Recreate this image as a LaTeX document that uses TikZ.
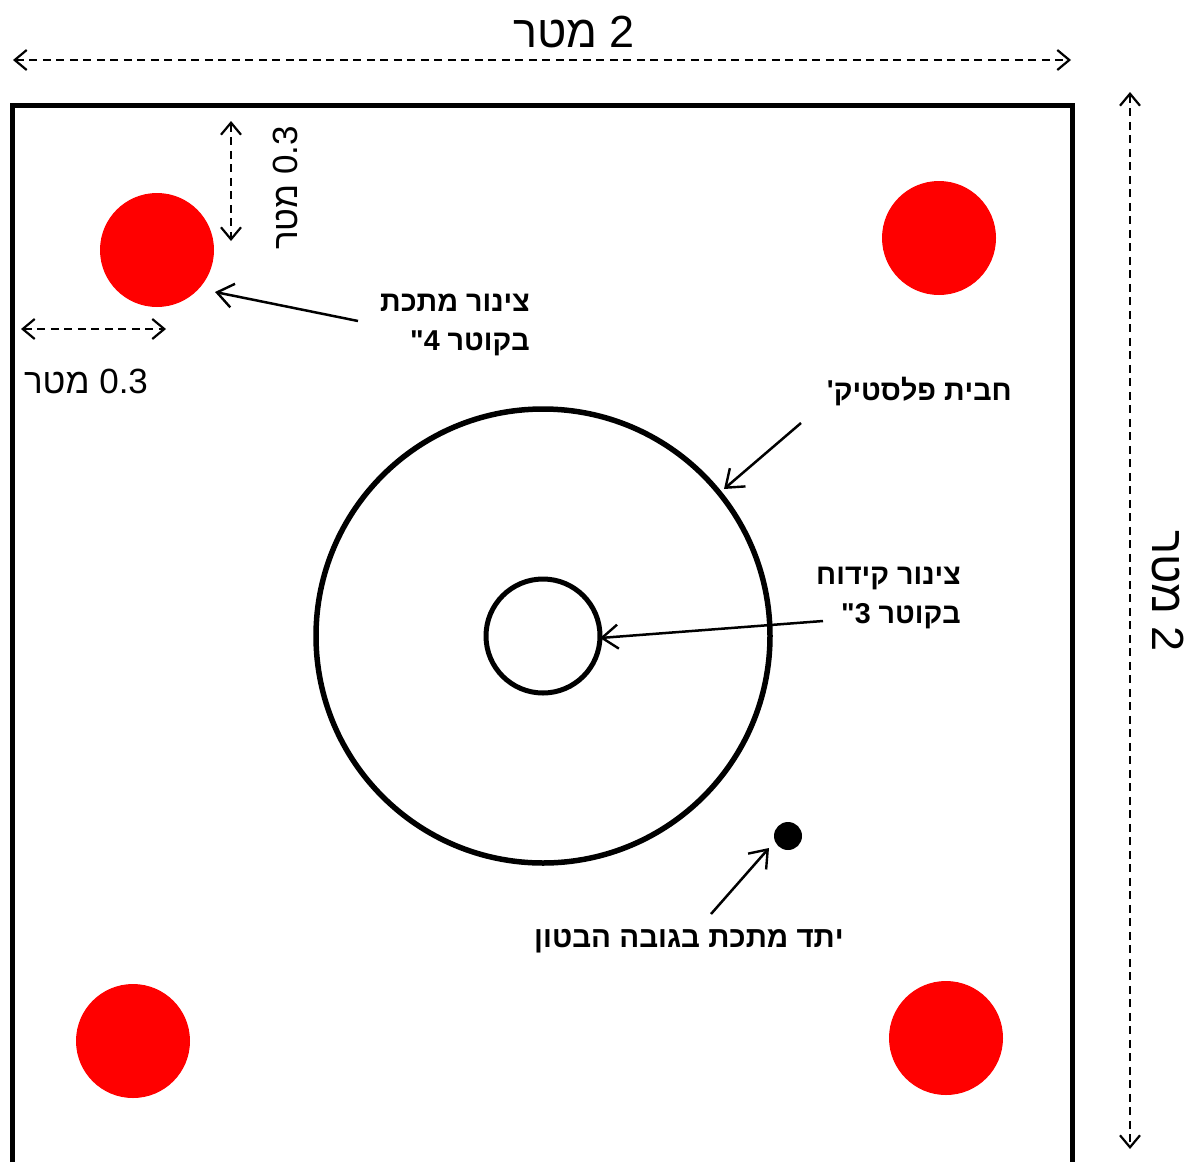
\documentclass[tikz,border=0pt]{standalone}
\usepackage{fontspec}
\setmainfont[Ligatures=TeXOff]{Liberation Sans}
\TeXXeTstate=1
\usetikzlibrary{arrows.meta}
\tikzset{
  x=1pt,y=-1pt,
  pipe/.style={circle,fill=red,draw=none,minimum size=114pt,inner sep=0pt},
  ring/.style={circle,draw=black,fill=none,inner sep=0pt},
  rebar/.style={circle,fill=black,draw=none,minimum size=28pt,inner sep=0pt},
  dim/.style={draw=black,line width=2pt,dash pattern=on 8pt off 5.5pt,{Straight Barb[length=12pt,width=20pt,line width=2.2pt]}-{Straight Barb[length=12pt,width=20pt,line width=2.2pt]}},
  pointer/.style={draw=black,line width=2.5pt,-{Straight Barb[length=16pt,width=24pt,line width=2.4pt]}},
  dimtext/.style={inner sep=0pt,font=\fontsize{45}{50}\selectfont},
  smalldim/.style={inner sep=0pt,font=\fontsize{35}{40}\selectfont},
  note/.style={inner sep=0pt,align=right,font=\fontsize{28.7}{39.5}\selectfont\bfseries},
}
\begin{document}
\begin{tikzpicture}
\useasboundingbox (0,0) rectangle (1191,1162);
\fill[white] (0,0) rectangle (1191,1162);
% slab outline
\coordinate (slabBL) at (12,1162);
\coordinate (slabTL) at (12,105);
\coordinate (slabTR) at (1072,105);
\coordinate (slabBR) at (1072,1162);
\draw[line width=5pt,line join=miter] (slabBL) -- (slabTL) -- (slabTR) -- (slabBR);
% pipes
\node[pipe] (pipeTL) at (157,250) {};
\node[pipe] (pipeTR) at (939,238) {};
\node[pipe] (pipeBL) at (133,1041) {};
\node[pipe] (pipeBR) at (946,1038) {};
% plastic tank and casing
\node[ring,line width=5.5pt,minimum size=454pt] (tank) at (543,636) {};
\node[ring,line width=5pt,minimum size=114pt] (casing) at (543,636) {};
\node[rebar] (bar) at (788,836) {};
% dimension ends
\coordinate (dTopL) at (13,60);
\coordinate (dTopR) at (1071,60);
\coordinate (dRightT) at (1130,92);
\coordinate (dRightB) at (1130,1149);
\coordinate (dVertT) at (231,121);
\coordinate (dVertB) at (231,241);
\coordinate (dHorL) at (21,329);
\coordinate (dHorR) at (166,329);
\draw[dim] (dTopL) -- (dTopR);
\draw[dim] (dRightT) -- (dRightB);
\draw[dim] (dVertT) -- (dVertB);
\draw[dim] (dHorL) -- (dHorR);
% dimension labels
\node[dimtext] (lblTop) at (574,32) {\beginR\beginL 2\endL{} מטר\endR};
\node[dimtext,rotate=-90] (lblRight) at (1168,591) {\beginR\beginL 2\endL{} מטר\endR};
\node[smalldim,rotate=90] (lblVert) at (285,188) {\beginR\beginL 0.3\endL{} מטר\endR};
\node[smalldim] (lblHor) at (86,381) {\beginR\beginL 0.3\endL{} מטר\endR};
% notes
\node[note,anchor=east] (notePipe) at (530,325) {\beginR צינור מתכת\endR\\\beginR בקוטר \beginL 4\endL{}"\endR};
\node[note,anchor=east] (noteTank) at (1012,392) {\beginR חבית פלסטיק'\endR};
\node[note,anchor=east] (noteCasing) at (961,598) {\beginR צינור קידוח\endR\\\beginR בקוטר \beginL 3\endL{}"\endR};
\node[note,anchor=east,font=\fontsize{29.5}{39.5}\selectfont\bfseries] (noteBar) at (844,941) {\beginR יתד מתכת בגובה הבטון\endR};
% pointers
\coordinate (pPipeS) at (358,321);
\coordinate (pPipeE) at (215,292);
\coordinate (pTankS) at (801,423);
\coordinate (pTankE) at (724,489);
\coordinate (pCasingS) at (823,621);
\coordinate (pCasingE) at (600,638);
\coordinate (pBarS) at (711,914);
\coordinate (pBarE) at (769,848);
\draw[pointer] (pPipeS) -- (pPipeE);
\draw[pointer] (pTankS) -- (pTankE);
\draw[pointer] (pCasingS) -- (pCasingE);
\draw[pointer] (pBarS) -- (pBarE);
\end{tikzpicture}
\end{document}
